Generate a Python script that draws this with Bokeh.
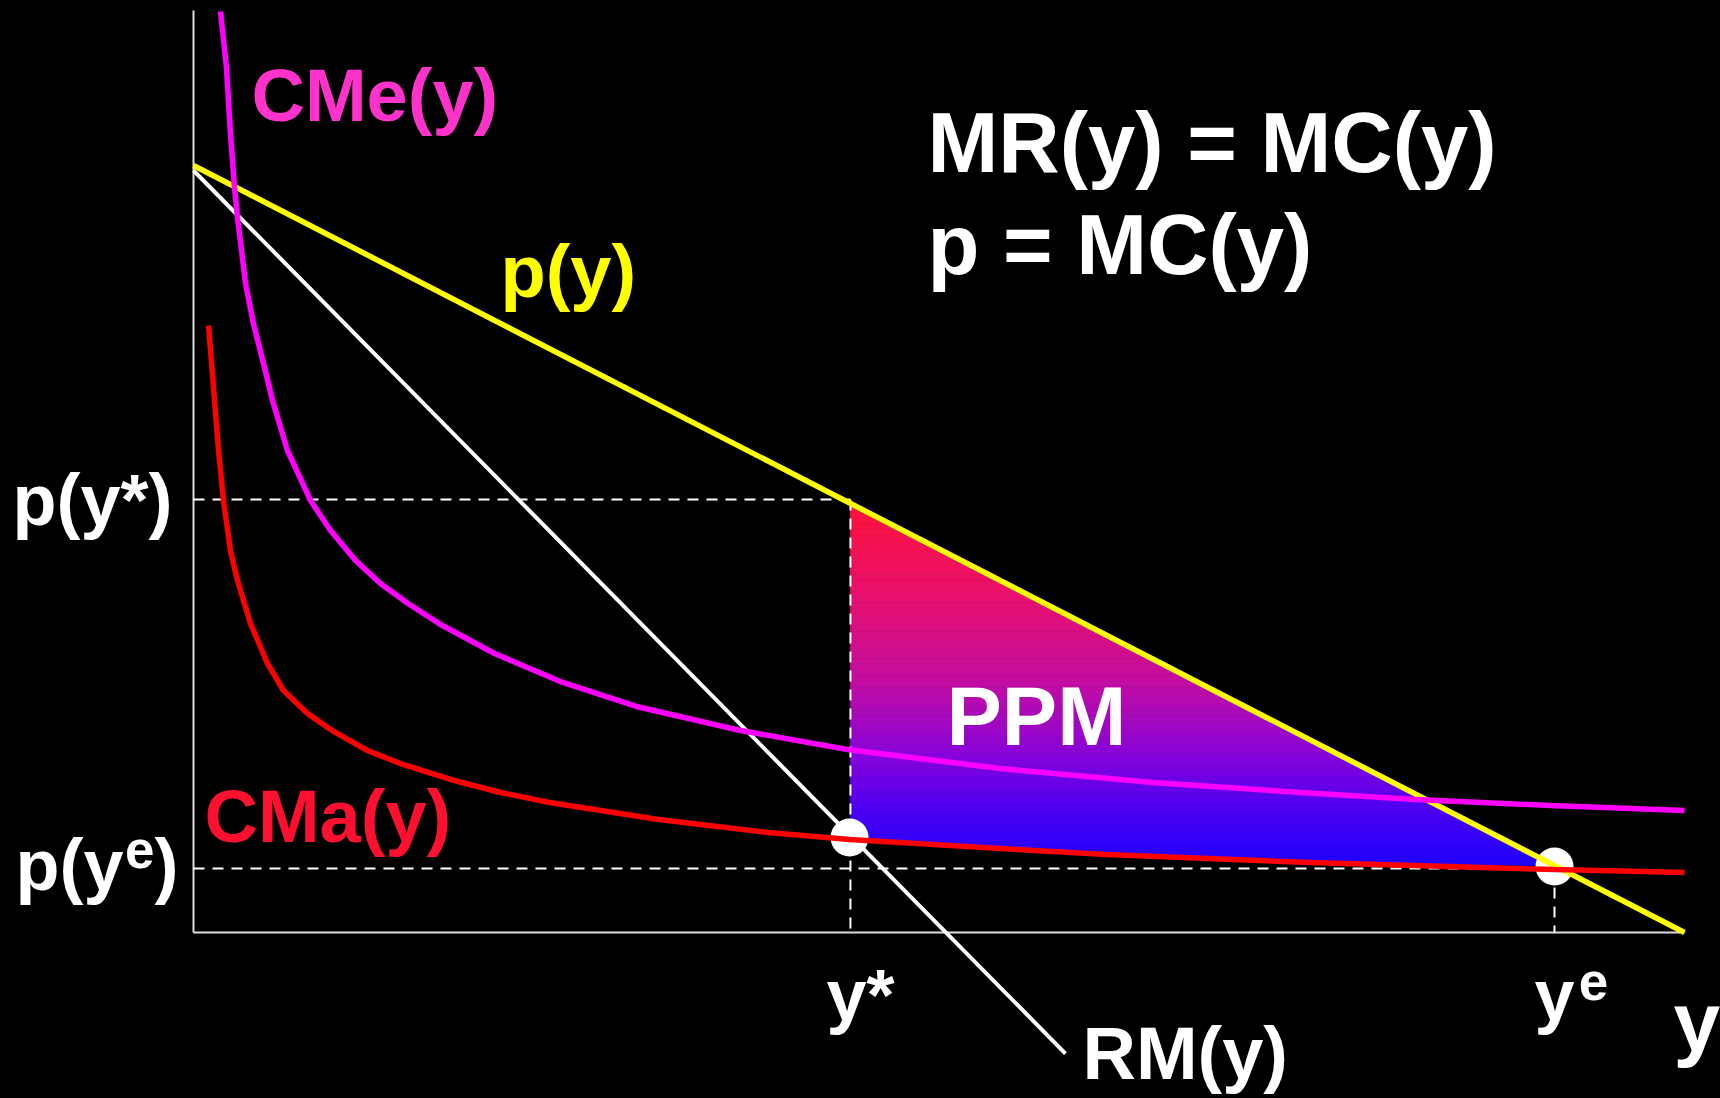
import numpy as np
from bokeh.plotting import figure
from bokeh.models import Range1d
from bokeh.core.properties import value
from bokeh.embed import file_html
from bokeh.resources import INLINE

# ---------------- data ----------------
# demand / price p(y)
demand_x = [0.0, 10.0]
demand_y = [10.0, 0.0]
# marginal revenue RM(y)
mr_x = [0.0, 5.848]
mr_y = [9.935, -1.578]
# average cost CMe(y)
ac_x = [0.181, 0.221, 0.248, 0.275, 0.295, 0.349, 0.402, 0.476, 0.530, 0.630,
        0.785, 0.919, 1.087, 1.254, 1.429, 1.657, 2.019, 2.461, 2.971, 3.669,
        4.386, 5.412, 6.432, 7.425, 8.196, 9.101, 10.000]
ac_y = [12.008, 11.278, 10.417, 9.713, 9.322, 8.462, 7.940, 7.366, 6.936, 6.284,
        5.632, 5.241, 4.850, 4.550, 4.302, 4.016, 3.638, 3.272, 2.947, 2.634,
        2.386, 2.138, 1.956, 1.825, 1.734, 1.656, 1.591]
# marginal cost CMa(y)
mc_x = [0.101, 0.141, 0.168, 0.201, 0.248, 0.295, 0.382, 0.496, 0.604, 0.765,
        0.939, 1.167, 1.388, 1.724, 2.059, 2.388, 3.119, 3.857, 4.400, 5.412,
        6.123, 7.492, 9.128, 10.000]
mc_y = [7.914, 6.936, 6.284, 5.632, 4.980, 4.589, 4.029, 3.507, 3.155, 2.855,
        2.621, 2.373, 2.203, 1.995, 1.825, 1.695, 1.473, 1.304, 1.213, 1.095,
        1.017, 0.913, 0.821, 0.782]
# key points
y_star, p_star = 4.406, 5.645
y_e, p_e = 9.128, 0.834
pts_x = [4.400, 9.128]
pts_y = [1.239, 0.860]

# gradient colour stops (top -> bottom)
grad_t = [0.0, 0.25, 0.5, 0.7, 0.85, 1.0]
grad_rgb = [(255, 20, 60), (235, 18, 110), (195, 14, 165), (135, 5, 222), (75, 0, 245), (32, 0, 255)]

FONT = value("Liberation Sans")
PX_PER_Y = 76.7  # screen pixels per y data unit

# ---------------- figure ----------------
p = figure(width=1720, height=1098,
           x_range=Range1d(-1.2944, 10.2414), y_range=Range1d(-2.1643, 12.1512),
           output_backend="svg", toolbar_location=None,
           x_axis_location=None, y_axis_location=None,
           min_border=0, min_border_left=0, min_border_right=0,
           min_border_top=0, min_border_bottom=0,
           background_fill_color="black", border_fill_color="black",
           outline_line_color=None)
p.grid.visible = False

# ---------------- PPM gradient region ----------------
top_left = (y_star, float(np.interp(y_star, demand_x, demand_y)))
end_pt = (y_e, float(np.interp(y_e, demand_x, demand_y)))
poly = [top_left, end_pt]
inner = [(x, y) for x, y in zip(mc_x, mc_y) if y_star < x < y_e]
poly += inner[::-1]
poly.append((y_star, float(np.interp(y_star, mc_x, mc_y))))


def clip(polygon, y0, keep_above):
    out = []
    n = len(polygon)
    for i in range(n):
        cur = polygon[i]
        prev = polygon[i - 1]
        cin = cur[1] >= y0 if keep_above else cur[1] <= y0
        pin = prev[1] >= y0 if keep_above else prev[1] <= y0
        if cin:
            if not pin:
                t = (y0 - prev[1]) / (cur[1] - prev[1])
                out.append((prev[0] + t * (cur[0] - prev[0]), y0))
            out.append(cur)
        elif pin:
            t = (y0 - prev[1]) / (cur[1] - prev[1])
            out.append((prev[0] + t * (cur[0] - prev[0]), y0))
    return out


ytop = max(v[1] for v in poly)
ybot = min(v[1] for v in poly)
nb = 220
edges = np.linspace(ybot, ytop, nb + 1)
bx, by, bc = [], [], []
for i in range(nb):
    y0, y1 = edges[i], edges[i + 1]
    band = clip(clip(poly, y0, True), y1, False)
    if len(band) < 3:
        continue
    t = (ytop - 0.5 * (y0 + y1)) / (ytop - ybot)
    r = np.interp(t, grad_t, [c[0] for c in grad_rgb])
    g = np.interp(t, grad_t, [c[1] for c in grad_rgb])
    b = np.interp(t, grad_t, [c[2] for c in grad_rgb])
    col = "#%02x%02x%02x" % (int(round(r)), int(round(g)), int(round(b)))
    bx.append([v[0] for v in band])
    by.append([v[1] for v in band])
    bc.append(col)
p.patches(bx, by, fill_color=bc, line_color=bc, line_width=0.8)

# ---------------- axes ----------------
p.line([0, 0], [0, 12.02], line_color="#dddddd", line_width=2)
p.line([0, 10], [0, 0], line_color="#dddddd", line_width=2)

# ---------------- dashed guides ----------------
dash = dict(line_color="white", line_width=2, line_dash="11 8")
p.line([0, y_star], [p_star, p_star], **dash)
p.line([y_star, y_star], [p_star, 0], **dash)
p.line([0, y_e], [p_e, p_e], **dash)
p.line([y_e, y_e], [p_e, 0], **dash)

# ---------------- points ----------------
p.scatter(pts_x, pts_y, size=38, marker="circle", fill_color="white", line_color=None)

# ---------------- curves ----------------
p.line(mr_x, mr_y, line_color="white", line_width=4)
p.line(demand_x, demand_y, line_color="#ffff00", line_width=5.5)
p.line(mc_x, mc_y, line_color="#ff0000", line_width=5.5)
p.line(ac_x, ac_y, line_color="#ff00ff", line_width=5.5)


# ---------------- texts ----------------
def label(x, y, txt, color, size):
    # anchor = left end of the text baseline
    yy = y + 0.36 * size / PX_PER_Y
    p.text([x], [yy], text=[txt], text_color=color, text_font=FONT,
           text_font_style="bold", text_font_size="%dpx" % size,
           text_align="left", text_baseline="alphabetic")


label(0.389, 10.561, "CMe(y)", "#ff33cc", 74)
label(2.059, 8.266, "p(y)", "#ffff00", 74)
label(4.923, 9.896, "MR(y) = MC(y)", "white", 85)
label(4.923, 8.566, "p = MC(y)", "white", 85)
label(-1.214, 5.307, "p(y*)", "white", 72)
label(-1.194, 0.548, "p(y", "white", 72)
label(-0.460, 0.834, "e", "white", 53)
label(-0.262, 0.548, ")", "white", 72)
label(4.245, -1.147, "y*", "white", 72)
label(8.994, -1.147, "y", "white", 72)
label(9.290, -0.887, "e", "white", 53)
label(9.926, -1.565, "y", "white", 84)
label(5.962, -1.930, "RM(y)", "white", 74)
label(0.074, 1.160, "CMa(y)", "#ff1030", 74)
label(5.050, 2.425, "PPM", "white", 83)

html = file_html(p, INLINE)
html = html.replace("</head>", "<style>html,body{background:#000000;overflow:hidden;}</style></head>", 1)
open("out.html", "w").write(html)
